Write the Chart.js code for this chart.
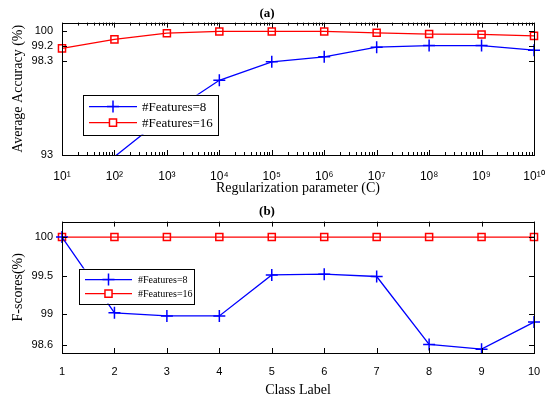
<!DOCTYPE html>
<html>
<head>
<meta charset="utf-8">
<script src="https://cdn.jsdelivr.net/npm/chart.js@4.4.1/dist/chart.umd.min.js"></script>
<style>
    html, body { margin: 0; padding: 0; background: #fff; }
    #wrap { position: relative; width: 550px; height: 399px; }
    .panel { position: absolute; left: 0; width: 550px; }
    #top-panel { top: 0; height: 197px; }
    #bottom-panel { top: 197px; height: 202px; }
</style>
</head>
<body>
<div id="wrap">
    <div class="panel" id="top-panel"><canvas id="acc-chart"></canvas></div>
    <div class="panel" id="bottom-panel"><canvas id="fscore-chart"></canvas></div>
</div>
<script>
// (a) accuracy vs regularization parameter C
const cValues = [1e1, 1e2, 1e3, 1e4, 1e5, 1e6, 1e7, 1e8, 1e9, 1e10];
const accFeatures8 = [90.5, 92.9, 95.27, 97.23, 98.28, 98.56, 99.11, 99.2, 99.2, 98.94];
const accFeatures16 = [99.04, 99.55, 99.9, 100, 100, 100, 99.92, 99.85, 99.83, 99.75];
const accTicks = [93, 98.3, 99.2, 100];

// (b) F-scores per class label
const classLabels = [1, 2, 3, 4, 5, 6, 7, 8, 9, 10];
const fFeatures8 = [100, 99.02, 98.98, 98.98, 99.51, 99.52, 99.49, 98.61, 98.55, 98.9];
const fFeatures16 = [100, 100, 100, 100, 100, 100, 100, 100, 100, 100];
const fTicks = [98.6, 99, 99.5, 100];

const seriesNames = ['#Features=8', '#Features=16'];

const SANS = '"Liberation Sans", Arial, sans-serif';
const SERIF = '"Liberation Serif", "Times New Roman", serif';
const SUP = {'0': '\u2070', '1': '\u00b9', '2': '\u00b2', '3': '\u00b3', '4': '\u2074',
    '5': '\u2075', '6': '\u2076', '7': '\u2077', '8': '\u2078', '9': '\u2079'};

Chart.defaults.color = '#000';
Chart.defaults.animation = false;

/**
 * Draw the MATLAB style box with inward ticks.
 */
const boxPlugin = {
    id: 'boxTicks',
    afterDatasetsDraw(chart, args, opts) {
        const ctx = chart.ctx;
        const a = chart.chartArea;
        const xs = chart.scales.x;
        const ys = chart.scales.y;
        ctx.save();
        ctx.strokeStyle = '#000';
        ctx.lineWidth = 1;
        ctx.strokeRect(Math.round(a.left) + 0.5, Math.round(a.top) + 0.5,
            Math.round(a.right - a.left), Math.round(a.bottom - a.top));

        const tick = (x1, y1, x2, y2) => {
            ctx.beginPath();
            ctx.moveTo(x1, y1);
            ctx.lineTo(x2, y2);
            ctx.stroke();
        };
        xs.ticks.forEach(t => {
            const x = Math.round(xs.getPixelForValue(t.value)) + 0.5;
            tick(x, a.bottom, x, a.bottom - 5);
            tick(x, a.top, x, a.top + 5);
        });
        ys.ticks.forEach(t => {
            const y = Math.round(ys.getPixelForValue(t.value)) + 0.5;
            tick(a.left, y, a.left + 5, y);
            tick(a.right, y, a.right - 5, y);
        });
        if (opts.logMinor) {
            for (let k = 1; k < 10; k++) {
                for (let m = 2; m <= 9; m++) {
                    const x = Math.round(xs.getPixelForValue(m * Math.pow(10, k))) + 0.5;
                    tick(x, a.bottom, x, a.bottom - 3);
                    tick(x, a.top, x, a.top + 3);
                }
            }
        }
        ctx.restore();
    }
};

/**
 * Legend box inside the axes.
 */
const boxLegendPlugin = {
    id: 'boxLegend',
    afterDraw(chart, args, opts) {
        const ctx = chart.ctx;
        const a = chart.chartArea;
        const x0 = a.left + opts.dx;
        const y0 = a.top + opts.dy;
        ctx.save();
        ctx.fillStyle = '#fff';
        ctx.fillRect(x0, y0, opts.w, opts.h);
        ctx.strokeStyle = '#000';
        ctx.lineWidth = 1;
        ctx.strokeRect(Math.round(x0) + 0.5, Math.round(y0) + 0.5, opts.w, opts.h);
        chart.data.datasets.forEach((ds, i) => {
            const y = y0 + opts.rowY[i];
            ctx.strokeStyle = ds.borderColor;
            ctx.lineWidth = ds.borderWidth;
            ctx.beginPath();
            ctx.moveTo(x0 + opts.lineFrom, y);
            ctx.lineTo(x0 + opts.lineTo, y);
            ctx.stroke();
            ctx.fillStyle = '#fff';
            ctx.lineWidth = ds.pointBorderWidth;
            Chart.helpers.drawPoint(ctx, {
                pointStyle: ds.pointStyle,
                radius: ds.legendRadius,
                borderWidth: ds.pointBorderWidth
            }, x0 + (opts.lineFrom + opts.lineTo) / 2, y);
            ctx.fillStyle = '#000';
            ctx.font = opts.font;
            ctx.textBaseline = 'middle';
            ctx.fillText(ds.label, x0 + opts.textX, y + 1);
        });
        ctx.restore();
    }
};

function makeDatasets(xs, ys8, ys16, yMin) {
    return [{
        label: seriesNames[0],
        data: xs.map((x, i) => ({x: x, y: ys8[i]})),
        borderColor: '#0000ff',
        backgroundColor: '#0000ff',
        borderWidth: 1.3,
        pointStyle: 'cross',
        pointRadius: ctx => (ctx.raw && ctx.raw.y < yMin ? 0 : 6),
        legendRadius: 6,
        pointBorderWidth: 1.5,
        pointBorderColor: '#0000ff',
        clip: {left: 10, right: 10, top: 10, bottom: 0}
    }, {
        label: seriesNames[1],
        data: xs.map((x, i) => ({x: x, y: ys16[i]})),
        borderColor: '#ff0000',
        backgroundColor: '#ff0000',
        borderWidth: 1.3,
        pointStyle: 'rect',
        pointRadius: 5,
        legendRadius: 5,
        pointBorderWidth: 1.5,
        pointBorderColor: '#ff0000',
        pointBackgroundColor: 'rgba(255,255,255,0)',
        clip: {left: 10, right: 10, top: 10, bottom: 10}
    }];
}

function baseOptions(title, xTitle, yTitle, xHeight) {
    return {
        responsive: true,
        maintainAspectRatio: false,
        layout: {padding: {left: 0, right: 16, top: 0, bottom: 0}},
        plugins: {
            legend: {display: false},
            tooltip: {enabled: false},
            title: {
                display: true,
                text: title,
                font: {family: SERIF, size: 13, weight: 'bold'},
                padding: {top: 6, bottom: 1},
                color: '#000'
            }
        },
        scales: {
            x: {
                grid: {display: false, drawTicks: false},
                border: {display: false},
                ticks: {font: {family: SANS, size: 11}, color: '#000', padding: 12, maxRotation: 0, autoSkip: false},
                title: {display: true, text: xTitle, font: {family: SERIF, size: 14}, color: '#000', padding: {top: 2, bottom: 0}},
                afterFit: scale => {
                    scale.height = xHeight;
                    scale.paddingLeft = 0;
                    scale.paddingRight = 0;
                }
            },
            y: {
                grid: {display: false, drawTicks: false},
                border: {display: false},
                ticks: {font: {family: SANS, size: 11}, color: '#000', padding: 9, autoSkip: false},
                title: {display: true, text: yTitle, font: {family: SERIF, size: 14}, color: '#000', padding: {top: 10, bottom: 0}},
                afterFit: scale => { scale.width = 62; }
            }
        }
    };
}

function initializeCharts() {
    // (a) chart
    const accOptions = baseOptions('(a)', 'Regularization parameter (C)', 'Average Accuracy (%)', 42);
    Object.assign(accOptions.scales.x, {
        type: 'logarithmic',
        min: cValues[0],
        max: cValues[cValues.length - 1],
        afterBuildTicks: scale => { scale.ticks = cValues.map(v => ({value: v, major: true})); }
    });
    accOptions.scales.x.ticks.padding = 14;
    accOptions.scales.x.ticks.font = {family: SANS, size: 12};
    accOptions.scales.x.ticks.callback = value => {
        const exp = String(Math.round(Math.log10(value)));
        return '10' + exp.split('').map(d => SUP[d]).join('');
    };
    Object.assign(accOptions.scales.y, {
        type: 'linear',
        min: 93,
        max: 100.5,
        afterBuildTicks: scale => { scale.ticks = accTicks.map(v => ({value: v})); }
    });
    accOptions.scales.y.ticks.callback = value => String(value);
    accOptions.plugins.boxTicks = {logMinor: true};
    accOptions.plugins.boxLegend = {
        dx: 21, dy: 72, w: 135, h: 40,
        lineFrom: 6, lineTo: 54, textX: 59, rowY: [12, 28],
        font: '13px ' + SERIF
    };

    new Chart(document.getElementById('acc-chart').getContext('2d'), {
        type: 'line',
        data: {datasets: makeDatasets(cValues, accFeatures8, accFeatures16, 93)},
        options: accOptions,
        plugins: [boxPlugin, boxLegendPlugin]
    });

    // (b) chart
    const fOptions = baseOptions('(b)', 'Class Label', 'F-scores(%)', 46);
    fOptions.plugins.title.padding = {top: 7, bottom: 2};
    Object.assign(fOptions.scales.x, {
        type: 'linear',
        min: classLabels[0],
        max: classLabels[classLabels.length - 1],
        afterBuildTicks: scale => { scale.ticks = classLabels.map(v => ({value: v})); }
    });
    Object.assign(fOptions.scales.y, {
        type: 'linear',
        min: 98.5,
        max: 100.2,
        afterBuildTicks: scale => { scale.ticks = fTicks.map(v => ({value: v})); }
    });
    fOptions.scales.y.ticks.callback = value => String(value);
    fOptions.plugins.boxTicks = {logMinor: false};
    fOptions.plugins.boxLegend = {
        dx: 17, dy: 47, w: 115, h: 35,
        lineFrom: 6, lineTo: 53, textX: 59, rowY: [11, 25],
        font: '10px ' + SERIF
    };

    new Chart(document.getElementById('fscore-chart').getContext('2d'), {
        type: 'line',
        data: {datasets: makeDatasets(classLabels, fFeatures8, fFeatures16, 98.5)},
        options: fOptions,
        plugins: [boxPlugin, boxLegendPlugin]
    });
}

initializeCharts();
</script>
</body>
</html>
